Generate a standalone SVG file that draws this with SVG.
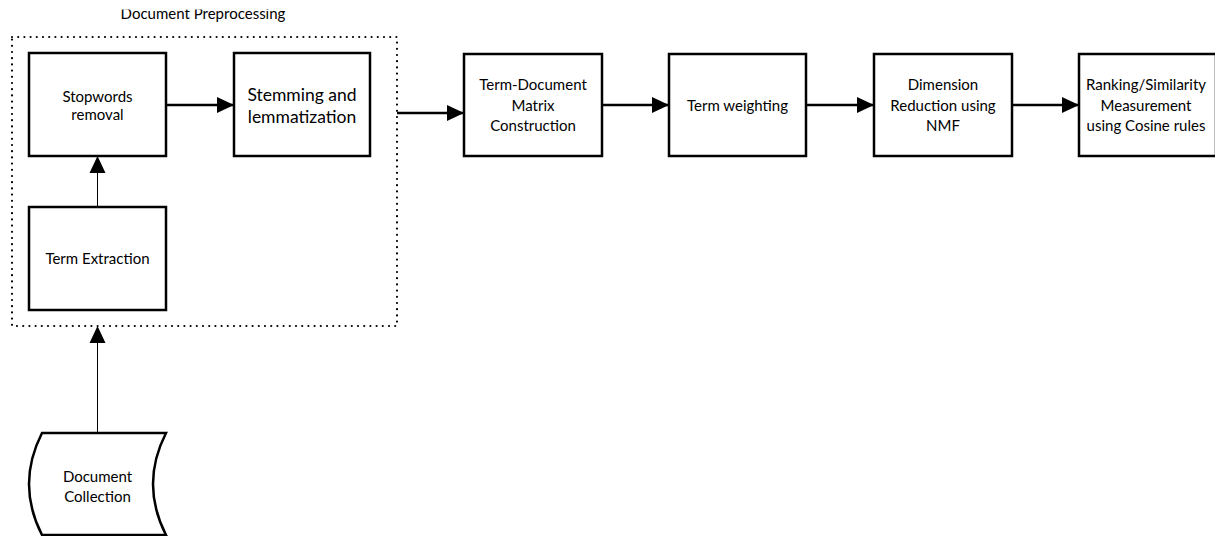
<svg xmlns="http://www.w3.org/2000/svg" width="1215" height="536" viewBox="0 0 1215 536">
<style>
.box{fill:#fff;stroke:#000;stroke-width:2.5}
.t{font-family:Lato,"Liberation Sans",sans-serif;font-size:15px;fill:#000;text-anchor:middle}
.tb{font-family:Lato,"Liberation Sans",sans-serif;font-size:17.5px;fill:#000;text-anchor:middle}
.thick{stroke:#000;stroke-width:2.5;fill:none}
.thin{stroke:#000;stroke-width:1;fill:none}
</style>
<defs>
<marker id="ah" markerUnits="userSpaceOnUse" markerWidth="18" markerHeight="18" viewBox="0 0 18 18" refX="17" refY="9" orient="auto">
<path d="M0,1 L17,9 L0,17 Z" fill="#000"/>
</marker>
<clipPath id="titleclip"><rect x="0" y="9.5" width="400" height="20"/></clipPath>
</defs>
<g id="preprocessing">
<rect x="12" y="37" width="385" height="289" fill="none" stroke="#000" stroke-width="2.2" stroke-linecap="round" stroke-dasharray="0 6.2"/>
<text class="t" x="203" y="19" clip-path="url(#titleclip)">Document Preprocessing</text>
</g>
<g id="stopwords">
<rect class="box" x="29" y="53" width="137" height="103"/>
<text class="t" x="97.5" y="102">Stopwords</text>
<text class="t" x="97.5" y="120">removal</text>
</g>
<g id="stemming">
<rect class="box" x="234" y="53" width="136" height="103"/>
<text class="tb" x="302" y="101">Stemming and</text>
<text class="tb" x="302" y="123">lemmatization</text>
</g>
<g id="term-extraction">
<rect class="box" x="29" y="207" width="137" height="103"/>
<text class="t" x="97.5" y="264">Term Extraction</text>
</g>
<g id="document-collection">
<path class="box" d="M42,433 L166,433 Q140,484 166,535 L42,535 Q16,484 42,433 Z"/>
<text class="t" x="97.5" y="482">Document</text>
<text class="t" x="97.5" y="502">Collection</text>
</g>
<g id="term-document">
<rect class="box" x="464" y="54" width="138" height="102"/>
<text class="t" x="533" y="90">Term-Document</text>
<text class="t" x="533" y="111">Matrix</text>
<text class="t" x="533" y="131">Construction</text>
</g>
<g id="term-weighting">
<rect class="box" x="669" y="54" width="137" height="102"/>
<text class="t" x="737.5" y="111">Term weighting</text>
</g>
<g id="dimension-reduction">
<rect class="box" x="874" y="54" width="138" height="102"/>
<text class="t" x="943" y="90">Dimension</text>
<text class="t" x="943" y="111">Reduction using</text>
<text class="t" x="943" y="131">NMF</text>
</g>
<g id="ranking">
<rect class="box" x="1079" y="54" width="137" height="102"/>
<text class="t" x="1146" y="90">Ranking/Similarity</text>
<text class="t" x="1146" y="111">Measurement</text>
<text class="t" x="1146" y="131">using Cosine rules</text>
</g>
<g id="connectors">
<line class="thick" x1="166" y1="105" x2="234" y2="105" marker-end="url(#ah)"/>
<line class="thin" x1="97.5" y1="207" x2="97.5" y2="156" marker-end="url(#ah)"/>
<line class="thin" x1="97.5" y1="433" x2="97.5" y2="326" marker-end="url(#ah)"/>
<line class="thick" x1="397" y1="113" x2="464" y2="113" marker-end="url(#ah)"/>
<line class="thick" x1="602" y1="105" x2="669" y2="105" marker-end="url(#ah)"/>
<line class="thick" x1="806" y1="105" x2="874" y2="105" marker-end="url(#ah)"/>
<line class="thick" x1="1012" y1="105" x2="1079" y2="105" marker-end="url(#ah)"/>
</g>
</svg>
